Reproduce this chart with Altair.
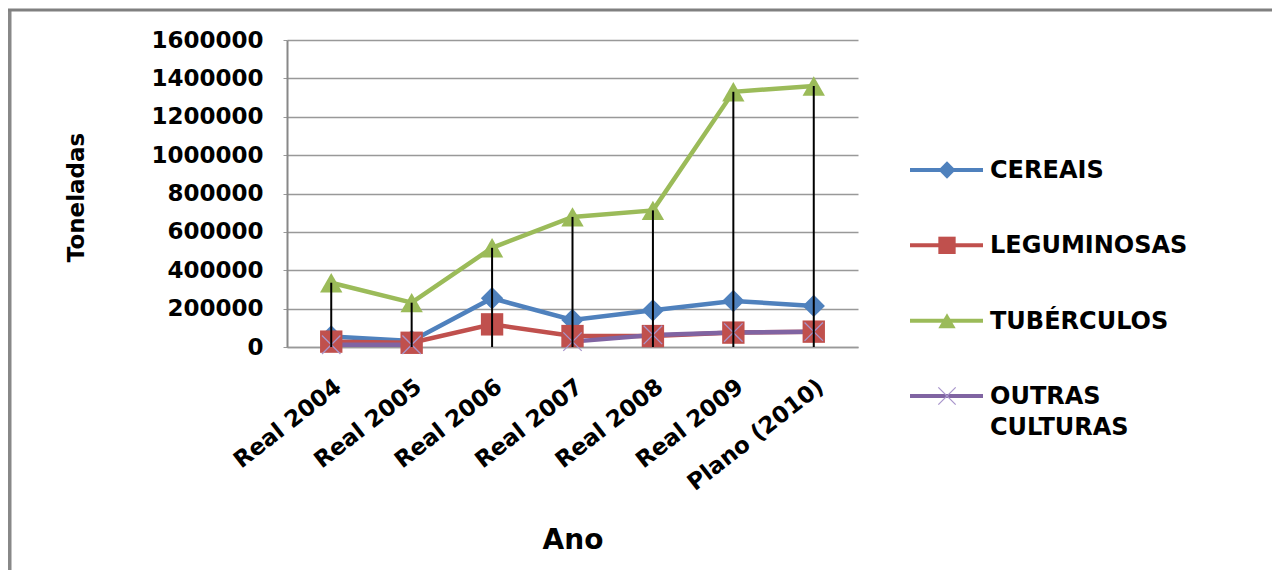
import altair as alt
import pandas as pd

# ---- data ----
anos = ["Real 2004", "Real 2005", "Real 2006", "Real 2007", "Real 2008", "Real 2009", "Plano (2010)"]
series = ["CEREAIS", "LEGUMINOSAS", "TUBÉRCULOS", "OUTRAS CULTURAS"]
legend_labels = ["CEREAIS", "LEGUMINOSAS", "TUBÉRCULOS", "OUTRAS\nCULTURAS"]
cereais = [55000, 31000, 254000, 141000, 191000, 240000, 214000]
leguminosas = [28000, 22000, 118000, 57000, 57000, 75000, 80000]
tuberculos = [335000, 231000, 517000, 678000, 712000, 1330000, 1360000]
outras = [12000, 12000, None, 28000, 63000, 75000, 80000]
y_ticks = [0, 200000, 400000, 600000, 800000, 1000000, 1200000, 1400000, 1600000]

colors = ["#4F81BD", "#C0504D", "#9BBB59", "#8064A2"]
shapes = ["diamond", "square", "triangle-up"]
FONT = "DejaVu Sans"

rows = []
for s, vals in zip(series, [cereais, leguminosas, tuberculos, outras]):
    for a, v in zip(anos, vals):
        rows.append({"ano": a, "serie": s, "valor": v})
df = pd.DataFrame(rows)
legend_df = pd.DataFrame({"serie": series, "label": legend_labels})

color_enc = alt.Color("serie:N", scale=alt.Scale(domain=series, range=colors), legend=None)
shape_enc = alt.Shape("serie:N", scale=alt.Scale(domain=series[:3], range=shapes), legend=None)

x_enc = alt.X(
    "ano:N", sort=anos,
    scale=alt.Scale(type="point", padding=0.55),
    axis=alt.Axis(
        title="Ano", labelAngle=-38, labelAlign="right", labelBaseline="top",
        labelPadding=28, labelFont=FONT, labelFontSize=23, labelFontWeight="bold",
        labelColor="black", ticks=False, grid=False, domainColor="#999999",
        domainWidth=1.5, titleFont=FONT, titleFontSize=28, titleFontWeight="bold",
        titleColor="black", titleY=193, titleBaseline="middle",
    ),
)
y_enc = alt.Y(
    "valor:Q",
    scale=alt.Scale(domain=[0, 1600000]),
    axis=alt.Axis(
        title="Toneladas", values=y_ticks, format="d", labelFont=FONT,
        labelFontSize=23, labelFontWeight="bold", labelColor="black",
        labelPadding=20, tickSize=4, tickColor="#999999", domainColor="#888888",
        domainWidth=2, gridColor="#999999", gridWidth=1.5,
        titleFont=FONT, titleFontSize=23, titleFontWeight="bold", titleColor="black",
        titleX=-211, titleY=157, titleAlign="center", titleBaseline="middle", titleAngle=-90,
    ),
)

base = alt.Chart(df).encode(x=x_enc, y=y_enc)

lines = base.mark_line(strokeWidth=4.5, invalid="break-paths-show-domains").encode(color=color_enc)
points = base.transform_filter(
    alt.FieldOneOfPredicate(field="serie", oneOf=series[:3])
).mark_point(filled=True, size=500, opacity=1).encode(color=color_enc, shape=shape_enc)
xmarks = base.transform_filter(
    alt.FieldEqualPredicate(field="serie", equal=series[3])
).mark_point(shape="M-1,-1L1,1M-1,1L1,-1", filled=False, size=340,
             color="#A996CC", strokeWidth=1.3, opacity=1)
drops = base.transform_filter(
    alt.FieldEqualPredicate(field="serie", equal=series[2])
).mark_rule(color="black", strokeWidth=2).encode(y2=alt.datum(0))

main = alt.layer(lines, points, xmarks, drops)

# ---- legend drawn as marks ----
ly = alt.Y("serie:N", scale=alt.Scale(type="point", domain=series, range=[130, 356], padding=0), axis=None)
lbase = alt.Chart(legend_df).encode(y=ly)
leg_line = lbase.mark_rule(strokeWidth=4).encode(x=alt.value(623), x2=alt.value(696), color=color_enc)
leg_pts = lbase.transform_filter(
    alt.FieldOneOfPredicate(field="serie", oneOf=series[:3])
).mark_point(filled=True, size=300, opacity=1).encode(x=alt.value(660), color=color_enc, shape=shape_enc)
leg_x = lbase.transform_filter(
    alt.FieldEqualPredicate(field="serie", equal=series[3])
).mark_point(shape="M-1,-1L1,1M-1,1L1,-1", filled=False, size=300,
             color="#A996CC", strokeWidth=1.3, opacity=1).encode(x=alt.value(660))
leg_text = lbase.mark_text(
    align="left", baseline="alphabetic", dy=8, font=FONT, fontSize=24,
    fontWeight="bold", color="black", lineBreak="\n", lineHeight=31,
).encode(x=alt.value(703), text="label:N")
legend = alt.layer(leg_line, leg_pts, leg_x, leg_text)

# ---- outer frame ----
frame_df = pd.DataFrame({"k": [0]})
frame_left = alt.Chart(frame_df).mark_rule(color="#888888", strokeWidth=4).encode(
    x=alt.value(-277.5), y=alt.value(-31), y2=alt.value(540))
frame_top = alt.Chart(frame_df).mark_rule(color="#808080", strokeWidth=3).encode(
    x=alt.value(-279), x2=alt.value(990), y=alt.value(-30))
frame = alt.layer(frame_left, frame_top)

chart = alt.layer(main, legend, frame).resolve_scale(y="independent").properties(
    width=571, height=307,
    autosize=alt.AutoSizeParams(type="none"),
    padding={"left": 279, "top": 32, "right": 414, "bottom": 223},
    background="white",
).configure_view(stroke=None)

chart.save("out.html", embed_options={"renderer": "svg", "actions": False})
